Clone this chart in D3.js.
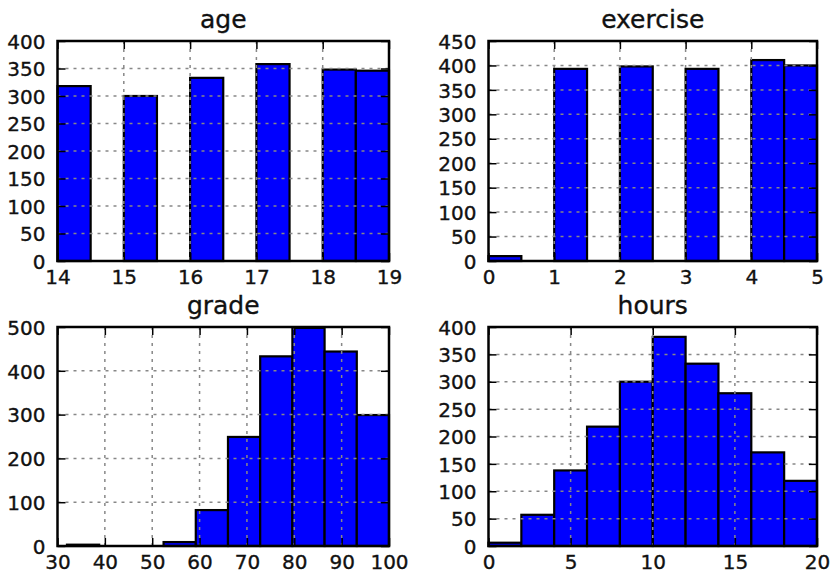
<!DOCTYPE html>
<html>
<head>
<meta charset="utf-8">
<script src="https://cdn.jsdelivr.net/npm/d3@7"></script>
<style>
  html, body { margin: 0; padding: 0; background: #fff; }
  svg { display: block; }
</style>
</head>
<body>
<svg id="chart" width="832" height="578"></svg>
<script>
// ---- Data ----
const titles = ["age", "exercise", "grade", "hours"];

const ageEdges = [14, 14.5, 15, 15.5, 16, 16.5, 17, 17.5, 18, 18.5, 19];
const ageCounts = [318, 0, 300, 0, 333, 0, 358, 0, 348, 346];

const exerciseEdges = [0, 0.5, 1, 1.5, 2, 2.5, 3, 3.5, 4, 4.5, 5];
const exerciseCounts = [10, 0, 393, 0, 398, 0, 393, 0, 411, 400];

const gradeEdges = [32, 38.8, 45.6, 52.4, 59.2, 66, 72.8, 79.6, 86.4, 93.2, 100];
const gradeCounts = [3, 0, 0, 9, 82, 249, 433, 498, 444, 299];

const hoursEdges = [0, 2, 4, 6, 8, 10, 12, 14, 16, 18, 20];
const hoursCounts = [6, 57, 138, 218, 300, 382, 333, 279, 171, 119];

const ageXTicks = [14, 15, 16, 17, 18, 19];
const exerciseXTicks = [0, 1, 2, 3, 4, 5];
const gradeXTicks = [30, 40, 50, 60, 70, 80, 90, 100];
const hoursXTicks = [0, 5, 10, 15, 20];

const ageYTicks = [0, 50, 100, 150, 200, 250, 300, 350, 400];
const exerciseYTicks = [0, 50, 100, 150, 200, 250, 300, 350, 400, 450];
const gradeYTicks = [0, 100, 200, 300, 400, 500];
const hoursYTicks = [0, 50, 100, 150, 200, 250, 300, 350, 400];

const xDomains = [[14, 19], [0, 5], [30, 100], [0, 20]];
const yDomains = [[0, 400], [0, 450], [0, 500], [0, 400]];

// ---- Layout ----
const panels = [
  { edges: ageEdges, counts: ageCounts, xt: ageXTicks, yt: ageYTicks, box: [57.5, 41, 389, 261] },
  { edges: exerciseEdges, counts: exerciseCounts, xt: exerciseXTicks, yt: exerciseYTicks, box: [488.5, 41, 817, 261] },
  { edges: gradeEdges, counts: gradeCounts, xt: gradeXTicks, yt: gradeYTicks, box: [57.5, 327, 389, 546] },
  { edges: hoursEdges, counts: hoursCounts, xt: hoursXTicks, yt: hoursYTicks, box: [488.5, 327, 817, 546] }
];

const svg = d3.select("#chart");
const font = "'DejaVu Sans', sans-serif";
const textColor = "#111";

panels.forEach((p, i) => {
  const [x0, y0, x1, y1] = p.box;
  const x = d3.scaleLinear().domain(xDomains[i]).range([x0, x1]);
  const y = d3.scaleLinear().domain(yDomains[i]).range([y1, y0]);
  const g = svg.append("g");

  const bins = p.counts.map((c, k) => ({ a: p.edges[k], b: p.edges[k + 1], c }));

  // bars
  g.selectAll("rect.bar").data(bins.filter(d => d.c > 0)).join("rect")
    .attr("class", "bar")
    .attr("x", d => x(d.a))
    .attr("y", d => y(d.c))
    .attr("width", d => x(d.b) - x(d.a))
    .attr("height", d => y(0) - y(d.c))
    .attr("fill", "#0000ff")
    .attr("stroke", "#000")
    .attr("stroke-width", 2.2);

  // grid (drawn above bars, classic style)
  g.selectAll("line.gx").data(p.xt.filter(v => v > xDomains[i][0] && v < xDomains[i][1])).join("line")
    .attr("x1", d => x(d)).attr("x2", d => x(d))
    .attr("y1", y0).attr("y2", y1)
    .attr("stroke", "#888").attr("stroke-width", 1.5).attr("stroke-dasharray", "3,5");
  g.selectAll("line.gy").data(p.yt.filter(v => v > yDomains[i][0] && v < yDomains[i][1])).join("line")
    .attr("y1", d => y(d)).attr("y2", d => y(d))
    .attr("x1", x0).attr("x2", x1)
    .attr("stroke", "#888").attr("stroke-width", 1.5).attr("stroke-dasharray", "3,5");

  // axes via d3 (inward ticks)
  const tl = 8;
  const axB = d3.axisBottom(x).tickValues(p.xt).tickSizeInner(-tl).tickSizeOuter(0).tickPadding(9).tickFormat(d3.format("d"));
  const axT = d3.axisTop(x).tickValues(p.xt).tickSizeInner(-tl).tickSizeOuter(0).tickFormat("");
  const axL = d3.axisLeft(y).tickValues(p.yt).tickSizeInner(-tl).tickSizeOuter(0).tickPadding(12).tickFormat(d3.format("d"));
  const axR = d3.axisRight(y).tickValues(p.yt).tickSizeInner(-tl).tickSizeOuter(0).tickFormat("");

  const styleAxis = sel => {
    sel.select(".domain").remove();
    sel.selectAll(".tick line").attr("stroke", "#000").attr("stroke-width", 1.5);
    sel.selectAll(".tick text").attr("fill", textColor).attr("stroke", textColor).attr("stroke-width", 0.35)
      .attr("font-family", font).attr("font-size", 20);
  };
  g.append("g").attr("transform", `translate(0,${y1})`).call(axB).call(styleAxis)
    .selectAll(".tick text").attr("dy", "0.71em");
  g.append("g").attr("transform", `translate(0,${y0})`).call(axT).call(styleAxis);
  g.append("g").attr("transform", `translate(${x0},0)`).call(axL).call(styleAxis)
    .selectAll(".tick text").attr("dy", "0.36em");
  g.append("g").attr("transform", `translate(${x1},0)`).call(axR).call(styleAxis);

  // frame
  g.append("rect")
    .attr("x", x0).attr("y", y0).attr("width", x1 - x0).attr("height", y1 - y0)
    .attr("fill", "none").attr("stroke", "#000").attr("stroke-width", 2.5);

  // title
  g.append("text")
    .attr("x", (x0 + x1) / 2).attr("y", y0 - 13)
    .attr("text-anchor", "middle")
    .attr("font-family", font).attr("font-size", 25)
    .attr("fill", textColor).attr("stroke", textColor).attr("stroke-width", 0.35)
    .text(titles[i]);
});
</script>
</body>
</html>
